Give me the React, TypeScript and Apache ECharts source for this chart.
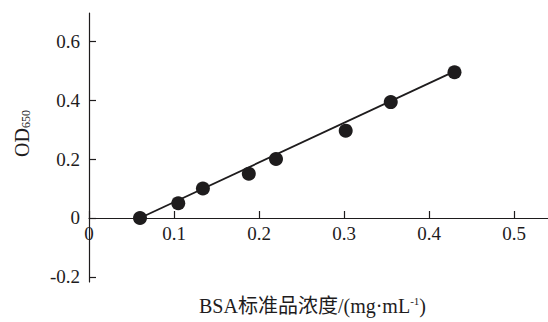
import React, { useEffect, useRef } from "react";
import * as echarts from "echarts";

const concentration = [0.06, 0.105, 0.134, 0.188, 0.22, 0.302, 0.355, 0.43];
const od650 = [0.0, 0.05, 0.1, 0.15, 0.2, 0.296, 0.393, 0.494];
const fitLineX = [0.06, 0.43];
const fitLineY = [0.0, 0.497];
const xTicks = [0, 0.1, 0.2, 0.3, 0.4, 0.5];
const yTicks = [-0.2, 0, 0.2, 0.4, 0.6];

const FONT = "Liberation Serif, Times New Roman, Noto Sans CJK SC, serif";
const INK = "#1e1c1d";

const Y_MIN = -0.217;
const Y_MAX = 0.695;
const GRID_TOP = 13;
const GRID_BOTTOM = 40;
const H = 322;

export default function App() {
  const ref = useRef<HTMLDivElement>(null);
  useEffect(() => {
    if (!ref.current) return;
    const chart = echarts.init(ref.current, null, { renderer: "svg" });
    const gridH = H - GRID_TOP - GRID_BOTTOM;
    // shift x axis up so it crosses the y axis at value 0
    const zeroOffset = -(gridH * (0 - Y_MIN)) / (Y_MAX - Y_MIN);
    chart.setOption({
      animation: false,
      backgroundColor: "#ffffff",
      textStyle: { fontFamily: FONT },
      grid: { left: 89, right: 0, top: GRID_TOP, bottom: GRID_BOTTOM, containLabel: false, outerBoundsMode: "none" },
      xAxis: {
        type: "value",
        min: 0,
        max: 0.54,
        offset: zeroOffset,
        name: "{n|BSA标准品浓度/(mg·mL}{s|-1}{n|)}",
        nameLocation: "middle",
        nameGap: 78,
        nameTextStyle: {
          fontFamily: FONT,
          padding: [0, 12, 0, 0],
          rich: {
            n: { fontFamily: FONT, fontSize: 20, color: INK },
            s: { fontFamily: FONT, fontSize: 11, color: INK, padding: [0, 0, 10, 0] },
          },
        },
        axisLine: { onZero: false, lineStyle: { color: INK, width: 1.2 } },
        axisTick: { inside: true, length: 7, customValues: xTicks, lineStyle: { color: INK, width: 1.2 } },
        axisLabel: {
          customValues: xTicks,
          formatter: (v: number) => String(Math.round(v * 10) / 10),
          fontFamily: FONT,
          fontSize: 19,
          color: INK,
          margin: 6,
        },
        splitLine: { show: false },
      },
      yAxis: {
        type: "value",
        min: Y_MIN,
        max: Y_MAX,
        name: "{n|OD}{s|650}",
        nameLocation: "middle",
        nameGap: 57,
        nameRotate: 90,
        nameTextStyle: {
          fontFamily: FONT,
          padding: [0, 0, 0, 28],
          rich: {
            n: { fontFamily: FONT, fontSize: 20, color: INK },
            s: { fontFamily: FONT, fontSize: 12, color: INK, padding: [8, 0, 0, 0] },
          },
        },
        axisLine: { show: true, onZero: false, lineStyle: { color: INK, width: 1.2 } },
        axisTick: { show: true, inside: true, length: 7, customValues: yTicks, lineStyle: { color: INK, width: 1.2 } },
        axisLabel: {
          customValues: yTicks,
          formatter: (v: number) => String(Math.round(v * 10) / 10),
          fontFamily: FONT,
          fontSize: 19,
          color: INK,
          margin: 9,
        },
        splitLine: { show: false },
      },
      series: [
        {
          type: "line",
          data: fitLineX.map((x, i) => [x, fitLineY[i]]),
          showSymbol: false,
          symbol: "none",
          lineStyle: { color: INK, width: 1.8 },
          z: 2,
        },
        {
          type: "scatter",
          data: concentration.map((x, i) => [x, od650[i]]),
          symbol: "circle",
          symbolSize: 14,
          itemStyle: { color: INK, opacity: 1 },
          z: 3,
        },
      ],
    });
    return () => chart.dispose();
  }, []);
  return (
    <div
      ref={ref}
      style={{ position: "fixed", left: 0, top: 0, width: 548, height: 322, background: "#fff" }}
    />
  );
}
